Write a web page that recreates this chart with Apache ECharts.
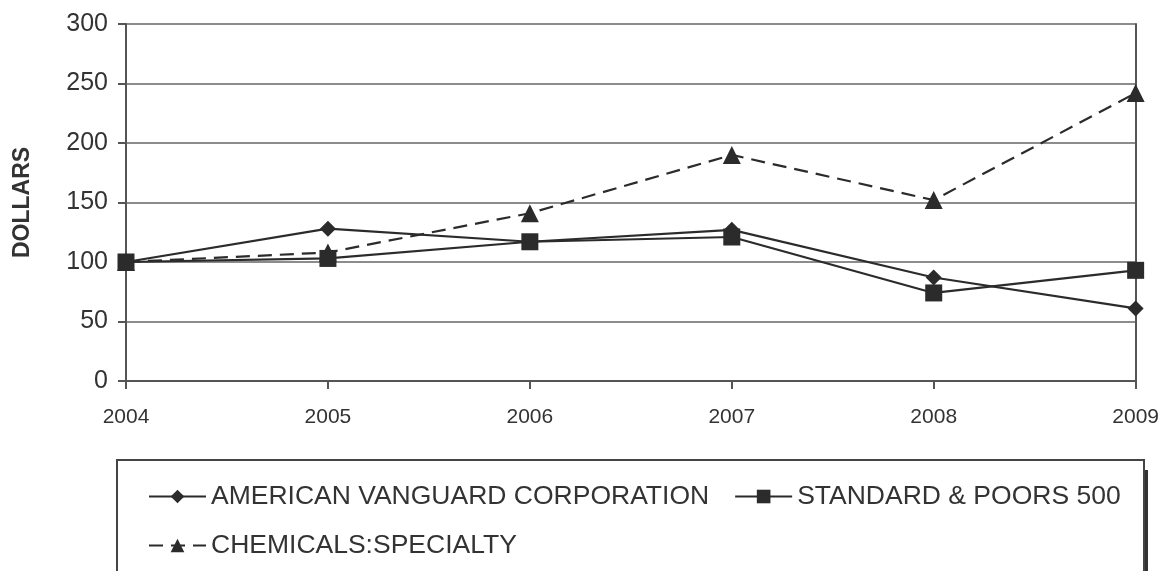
<!DOCTYPE html>
<html>
<head>
<meta charset="utf-8">
<script src="https://cdn.jsdelivr.net/npm/echarts@6/dist/echarts.min.js"></script>
<style>html,body{margin:0;padding:0;background:#fff}#c{width:1162px;height:571px}</style>
</head>
<body>
<div id="c"></div>
<script>
var years = ['2004', '2005', '2006', '2007', '2008', '2009'];
var americanVanguard = [100, 128, 117, 127, 87, 61];
var sp500 = [100, 103, 117, 121, 74, 93];
var chemicals = [100, 108, 141, 190, 152, 242];
var yTicks = [0, 50, 100, 150, 200, 250, 300];

var FONT = 'Liberation Sans, Arial, sans-serif';
var INK = '#2b2b2b';
var chart = echarts.init(document.getElementById('c'));
chart.setOption({
  animation: false,
  backgroundColor: '#fff',
  textStyle: { fontFamily: FONT },
  grid: { left: 126, right: 25, top: 24, bottom: 190 },
  xAxis: {
    type: 'category', data: years, boundaryGap: false,
    axisLine: { lineStyle: { color: '#555', width: 2 } },
    axisTick: { show: true, length: 8, alignWithLabel: true, lineStyle: { color: '#555', width: 2 } },
    axisLabel: { color: '#333', fontSize: 21, margin: 26, fontFamily: FONT },
    splitLine: { show: false }
  },
  yAxis: [{
    type: 'value', min: yTicks[0], max: yTicks[yTicks.length - 1], interval: 50,
    name: 'DOLLARS', nameLocation: 'middle', nameGap: 92, nameRotate: 90,
    nameTextStyle: { color: '#333', fontSize: 23, fontWeight: 'bold', fontFamily: FONT },
    axisLine: { show: true, lineStyle: { color: '#555', width: 2 } },
    axisTick: { show: true, length: 8, lineStyle: { color: '#555', width: 2 } },
    axisLabel: { color: '#333', fontSize: 25, margin: 18, fontFamily: FONT },
    splitLine: { show: true, lineStyle: { color: '#666', width: 1.5 } }
  }, {
    type: 'value', min: 0, max: 300, interval: 50, position: 'right',
    axisLine: { show: true, lineStyle: { color: '#555', width: 2 } },
    axisTick: { show: false }, axisLabel: { show: false }, splitLine: { show: false }
  }],
  legend: [{
    left: 143, top: 478, itemWidth: 57, itemHeight: 17, itemGap: 25,
    data: ['AMERICAN VANGUARD CORPORATION', 'STANDARD & POORS 500'],
    textStyle: { color: '#333', fontSize: 26.5, fontFamily: FONT }
  }, {
    left: 143, top: 527, itemWidth: 57, itemHeight: 17,
    data: ['CHEMICALS:SPECIALTY'],
    textStyle: { color: '#333', fontSize: 26.5, fontFamily: FONT }
  }],
  graphic: [
    { type: 'rect', shape: { x: 117, y: 460, width: 1027, height: 200 }, style: { fill: 'none', stroke: '#444', lineWidth: 2 }, silent: true },
    { type: 'line', shape: { x1: 1146.5, y1: 470, x2: 1146.5, y2: 571 }, style: { stroke: '#333', lineWidth: 3 }, silent: true }
  ],
  series: [{
    name: 'AMERICAN VANGUARD CORPORATION', type: 'line', data: americanVanguard,
    symbol: 'diamond', symbolSize: 16, showAllSymbol: true,
    lineStyle: { color: INK, width: 2.2 }, itemStyle: { color: INK }, z: 3
  }, {
    name: 'STANDARD & POORS 500', type: 'line', data: sp500,
    symbol: 'rect', symbolSize: 17, showAllSymbol: true,
    lineStyle: { color: INK, width: 2.2 }, itemStyle: { color: INK }, z: 4
  }, {
    name: 'CHEMICALS:SPECIALTY', type: 'line', data: chemicals,
    symbol: 'triangle', symbolSize: 18, showAllSymbol: true,
    lineStyle: { color: INK, width: 2.2, type: [14, 8] }, itemStyle: { color: INK }, z: 2
  }]
});
</script>
</body>
</html>
